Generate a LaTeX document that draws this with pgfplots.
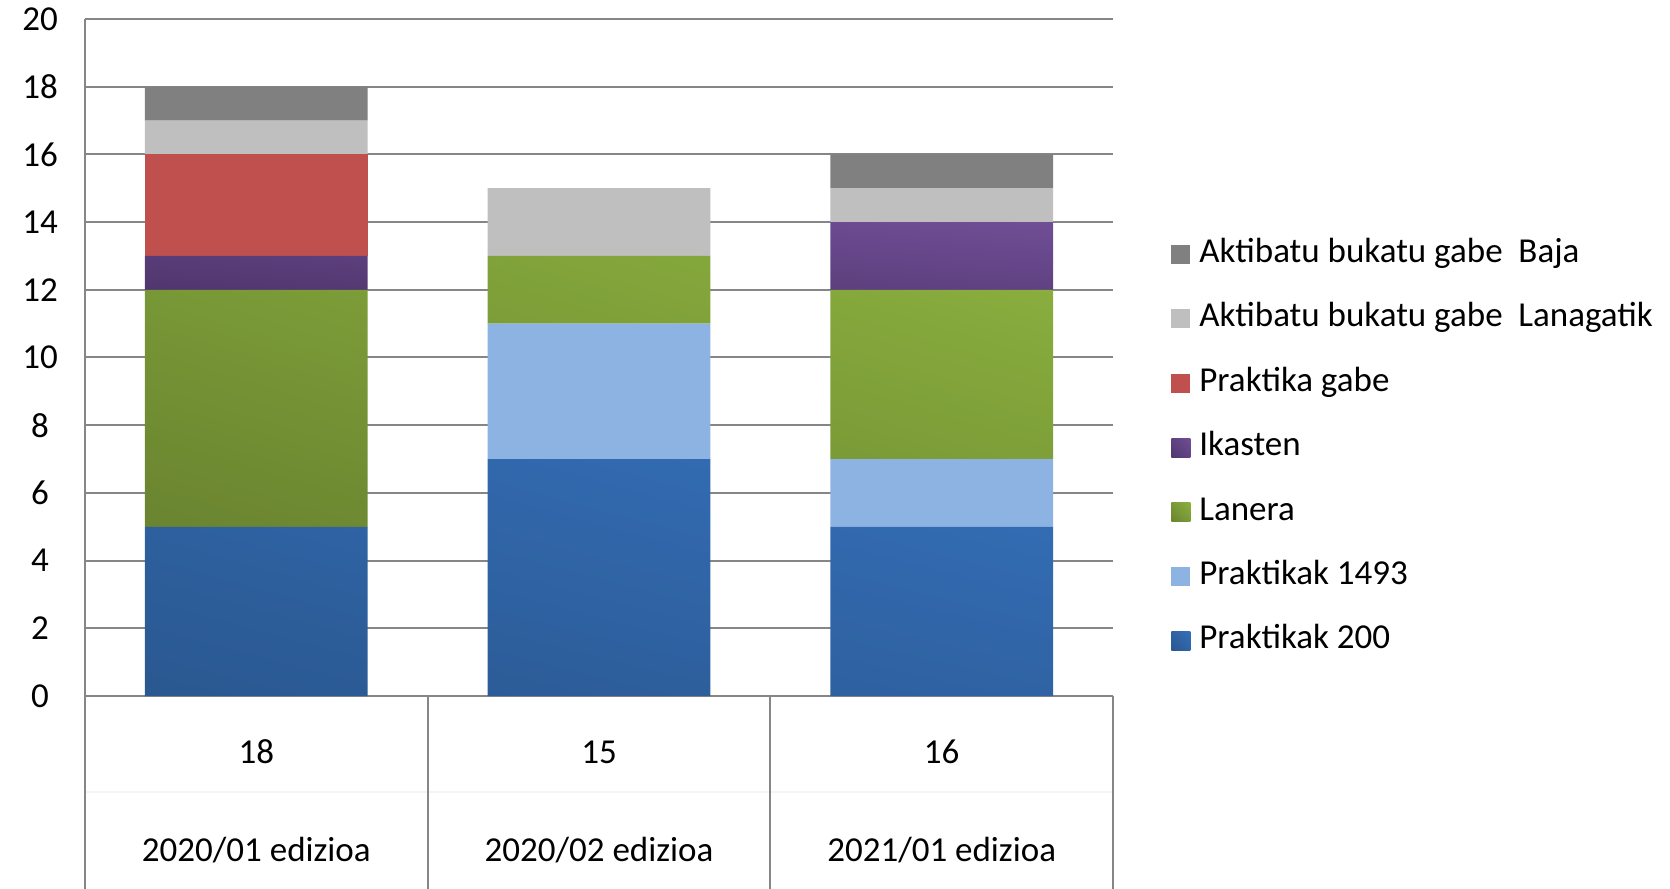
\documentclass[border=0pt]{standalone}
\usepackage{pgfplots}
\pgfplotsset{compat=1.18}
\usetikzlibrary{shadings}
\usepackage{fontspec}
\setmainfont{Carlito}
\definecolor{gridc}{RGB}{134,134,134}
\definecolor{cBaja}{RGB}{128,128,128}
\definecolor{cLan}{RGB}{191,191,191}
\definecolor{cPG}{RGB}{192,80,77}
\definecolor{cP1493}{RGB}{141,179,226}
\definecolor{bDark}{RGB}{42,88,144}
\definecolor{bMid}{RGB}{47,99,164}
\definecolor{bLight}{RGB}{53,112,186}
\definecolor{gDark}{RGB}{106,132,48}
\definecolor{gMid}{RGB}{122,154,55}
\definecolor{gLight}{RGB}{139,176,63}
\definecolor{pDark}{RGB}{80,54,109}
\definecolor{pMid}{RGB}{96,66,130}
\definecolor{pLight}{RGB}{112,78,150}
\begin{document}
\begin{tikzpicture}[font=\fontsize{17.5bp}{20bp}\selectfont]
\path[use as bounding box] (-42.5bp,-96.5bp) rectangle (792.5bp,348bp);
\begin{axis}[
  at={(0,0)}, anchor=south west,
  scale only axis, width=514bp, height=338.5bp,
  ybar stacked, bar width=0.65,
  xmin=-0.5, xmax=2.5, ymin=0, ymax=20,
  xtick=\empty,
  ytick={0,2,...,20},
  major tick length=0pt,
  ymajorgrids, grid style={gridc, line width=1bp},
  axis x line*=bottom, axis y line*=left,
  axis line style={gridc, line width=1bp, -},
  yticklabel style={anchor=center, xshift=-22.5bp, font=\fontsize{17.5bp}{20bp}\selectfont},
  /pgf/number format/assume math mode=true,
  clip=false,
  reverse legend,
  legend style={at={(1.0564,0.6765)}, anchor=north west, draw=none, fill=none,
    inner sep=0pt, row sep=16.2bp, column sep=4.5bp,
    nodes={inner sep=0pt, text height=12bp, text depth=4bp, anchor=west},
    font=\fontsize{17.5bp}{20bp}\selectfont},
  legend cell align=left,
  legend image code/.code={\path[#1, draw=none] (0bp,-4.75bp) rectangle (9.5bp,4.75bp);},
]
\addplot[draw=none, lower left=bDark, upper right=bLight, upper left=bMid, lower right=bMid]
  coordinates {(0,5) (1,7) (2,5)};
\addlegendentry{Praktikak 200}
\addplot[draw=none, fill=cP1493]
  coordinates {(0,0) (1,4) (2,2)};
\addlegendentry{Praktikak 1493}
\addplot[draw=none, lower left=gDark, upper right=gLight, upper left=gMid, lower right=gMid]
  coordinates {(0,7) (1,2) (2,5)};
\addlegendentry{Lanera}
\addplot[draw=none, lower left=pDark, upper right=pLight, upper left=pMid, lower right=pMid]
  coordinates {(0,1) (1,0) (2,2)};
\addlegendentry{Ikasten}
\addplot[draw=none, fill=cPG]
  coordinates {(0,3) (1,0) (2,0)};
\addlegendentry{Praktika gabe}
\addplot[draw=none, fill=cLan]
  coordinates {(0,1) (1,2) (2,1)};
\addlegendentry{Aktibatu bukatu gabe~~Lanagatik}
\addplot[draw=none, fill=cBaja]
  coordinates {(0,1) (1,0) (2,1)};
\addlegendentry{Aktibatu bukatu gabe~~Baja}
% table below the axis
\draw[gridc, line width=1bp] (axis cs:-0.5,0) -- ([yshift=-100bp]axis cs:-0.5,0);
\draw[gridc, line width=1bp] (axis cs:0.5,0) -- ([yshift=-100bp]axis cs:0.5,0);
\draw[gridc, line width=1bp] (axis cs:1.5,0) -- ([yshift=-100bp]axis cs:1.5,0);
\draw[gridc, line width=1bp] (axis cs:2.5,0) -- ([yshift=-100bp]axis cs:2.5,0);
\draw[black!4, line width=0.6bp] ([yshift=-48bp]axis cs:-0.5,0) -- ([yshift=-48bp]axis cs:2.5,0);
\node[anchor=base] at ([yshift=-33.5bp]axis cs:0,0) {18};
\node[anchor=base] at ([yshift=-33.5bp]axis cs:1,0) {15};
\node[anchor=base] at ([yshift=-33.5bp]axis cs:2,0) {16};
\node[anchor=base] at ([yshift=-82.5bp]axis cs:0,0) {2020/01 edizioa};
\node[anchor=base] at ([yshift=-82.5bp]axis cs:1,0) {2020/02 edizioa};
\node[anchor=base] at ([yshift=-82.5bp]axis cs:2,0) {2021/01 edizioa};
\end{axis}
\end{tikzpicture}
\end{document}
